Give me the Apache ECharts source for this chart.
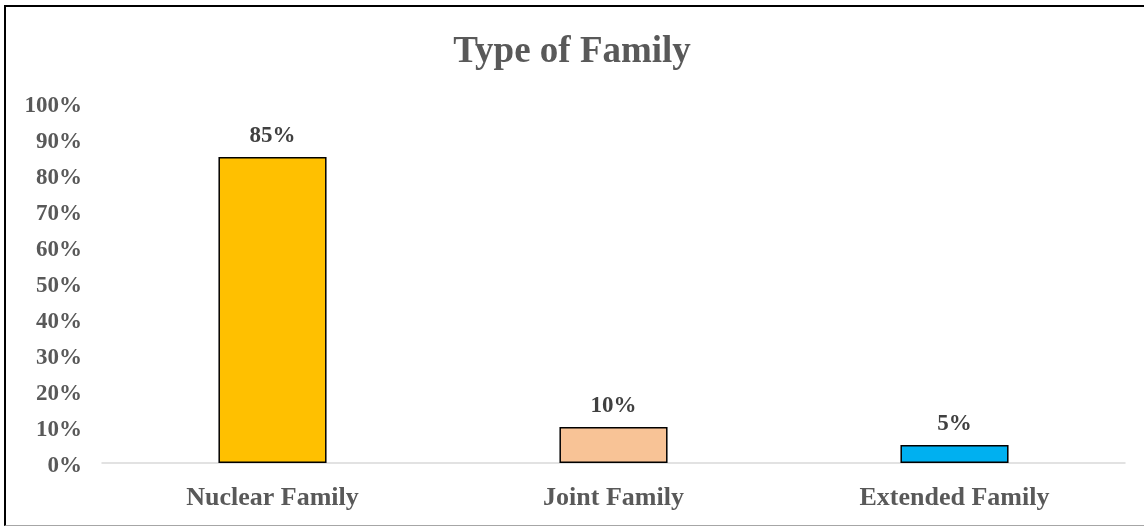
<!DOCTYPE html>
<html>
<head>
<meta charset="utf-8">
<script src="https://cdn.jsdelivr.net/npm/echarts@6/dist/echarts.min.js"></script>
<style>
html,body{margin:0;padding:0;background:#fff;}
#frame{position:absolute;left:4px;top:5px;width:1150px;height:521px;border-left:2px solid #000;border-top:2px solid #000;border-bottom:1px solid #A6A6A6;box-sizing:border-box;}
#chart{position:absolute;left:0;top:0;width:1144px;height:526px;}
</style>
</head>
<body>
<div id="frame"></div>
<div id="chart"></div>
<script>
const categories = ['Nuclear Family', 'Joint Family', 'Extended Family'];
const values = [85, 10, 5];
const barColors = ['#FFC000', '#F8C396', '#00B0F0'];
const yTicks = [0, 10, 20, 30, 40, 50, 60, 70, 80, 90, 100];

const chart = echarts.init(document.getElementById('chart'), null, {renderer: 'canvas'});
const serif = '"Liberation Serif", "Times New Roman", serif';
chart.setOption({
  animation: false,
  title: {
    text: 'Type of Family',
    left: 'center',
    top: 29,
    textStyle: {fontFamily: serif, fontSize: 37, fontWeight: 'bold', color: '#595959'}
  },
  grid: {left: 102, right: 19, top: 103, bottom: 63},
  xAxis: {
    type: 'category',
    data: categories,
    axisTick: {show: false},
    axisLine: {lineStyle: {color: '#D9D9D9', width: 1.5}},
    axisLabel: {fontFamily: serif, fontSize: 26, fontWeight: 'bold', color: '#595959', margin: 22}
  },
  yAxis: {
    type: 'value',
    min: 0, max: 100, interval: 10,
    splitLine: {show: false},
    axisLine: {show: false},
    axisTick: {show: false},
    axisLabel: {margin: 20,
      formatter: v => yTicks.includes(v) ? '{p|' + v + '%}' : '',
      rich: {p: {fontFamily: serif, fontSize: 23, fontWeight: 'bold', color: '#595959', padding: [6, 0, 0, 0]}}}
  },
  series: [{
    type: 'bar',
    barWidth: '31.7%',
    data: values.map((v, i) => ({value: v, itemStyle: {color: barColors[i]}})),
    itemStyle: {borderColor: '#000', borderWidth: 1.5},
    label: {show: true, position: 'top', distance: 9, formatter: p => p.value + '%',
      fontFamily: serif, fontSize: 23, fontWeight: 'bold', color: '#404040'}
  }]
});
</script>
</body>
</html>
